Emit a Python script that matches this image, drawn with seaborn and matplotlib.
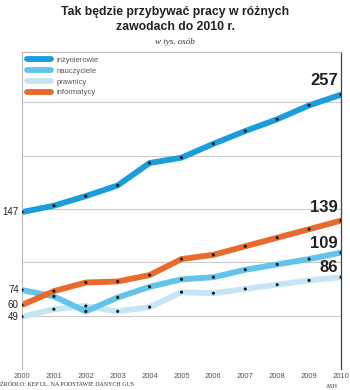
import pandas as pd
import seaborn as sns
import matplotlib.pyplot as plt

years = list(range(2000, 2011))
inzynierowie = [147, 153, 162, 172, 193, 198, 211, 223, 234, 247, 257]
nauczyciele = [74, 68, 54, 67, 77, 84, 86, 93, 98, 103, 109]
prawnicy = [49, 56, 59, 54, 58, 72, 71, 75, 79, 83, 86]
informatycy = [60, 73, 81, 82, 88, 103, 107, 115, 123, 131, 139]
series_names = ['inżynierowie', 'nauczyciele', 'prawnicy', 'informatycy']
colors = ['#1a9ddb', '#62c3ec', '#c6e6f6', '#e86a2c']

df = pd.DataFrame({'rok': years * 4,
                   'wartosc': inzynierowie + nauczyciele + prawnicy + informatycy,
                   'zawod': [n for n in series_names for _ in years]})

sns.set_style('white')
plt.rcParams['font.family'] = ['Liberation Sans', 'DejaVu Sans']

fig = plt.figure(figsize=(3.5, 3.9), dpi=100)
ax = fig.add_axes([22/350, 1-369/390, 319/350, 317/390])

# kolejnosc rysowania: jasne pod spodem
order = ['prawnicy', 'nauczyciele', 'informatycy', 'inżynierowie']
pal = dict(zip(series_names, colors))
for name in order:
    sub = df[df['zawod'] == name]
    sns.lineplot(data=sub, x='rok', y='wartosc', color=pal[name], lw=4.2,
                 solid_capstyle='round', ax=ax, legend=False)
sns.scatterplot(data=df, x='rok', y='wartosc', color='#111111', s=5,
                edgecolor='none', ax=ax, legend=False, zorder=5)

ax.set_xlim(2000, 2010)
ax.set_ylim(0, 297)
ax.set_yticks([50, 100, 150, 200, 250])
ax.yaxis.grid(True, color='#cccccc', lw=0.8)
ax.set_yticklabels([])
ax.tick_params(axis='y', length=0)
ax.set_xticks(years)
ax.set_xticklabels([str(y) for y in years], fontsize=5.5, color='#555555')
ax.tick_params(axis='x', length=0, pad=3)
ax.set_xlabel('')
ax.set_ylabel('')
for s in ['left', 'top']:
    ax.spines[s].set_color('#bbbbbb')
    ax.spines[s].set_linewidth(0.8)
ax.spines['right'].set_color('#444444')
ax.spines['right'].set_linewidth(0.9)
ax.spines['bottom'].set_visible(False)

# legenda
handles = [plt.Line2D([], [], color=c, lw=4.2, solid_capstyle='round') for c in colors]
leg = ax.legend(handles, series_names, loc='upper left', frameon=False, fontsize=5.5,
                handlelength=3.2, handletextpad=0.7, labelspacing=0.45,
                borderaxespad=0.2, bbox_to_anchor=(0.0, 1.0))
for t in leg.get_texts():
    t.set_color('#555555')

# etykiety wartosci
for v in [inzynierowie[0], nauczyciele[0], informatycy[0], prawnicy[0]]:
    ax.text(-0.01, v, str(v), transform=ax.get_yaxis_transform(), ha='right',
            va='center', fontsize=7, color='#222222')
for v, dy in [(inzynierowie[-1], 13), (informatycy[-1], 12), (nauczyciele[-1], 8.5), (prawnicy[-1], 9)]:
    ax.text(2009.9, v + dy, str(v), ha='right', va='center', fontsize=12,
            fontweight='bold', color='#222222')

fig.text(0.5, 0.985, 'Tak będzie przybywać pracy w różnych\nzawodach do 2010 r.',
         ha='center', va='top', fontsize=8.8, fontweight='bold', color='#222222',
         linespacing=1.3)
fig.text(0.5, 1-42/390, 'w tys. osób', ha='center', va='center', fontsize=6.5,
         style='italic', family='Liberation Serif', color='#333333')
fig.text(0.0, 1-384/390, 'ŹRÓDŁO: KEP UL. NA PODSTAWIE DANYCH GUS', ha='left',
         va='center', fontsize=4.3, family='Liberation Serif', color='#333333')
fig.text(338/350, 1-386/390, 'ASH', ha='right', va='center', fontsize=4.3,
         family='Liberation Serif', color='#333333')

fig.savefig('out.png', dpi=100)
